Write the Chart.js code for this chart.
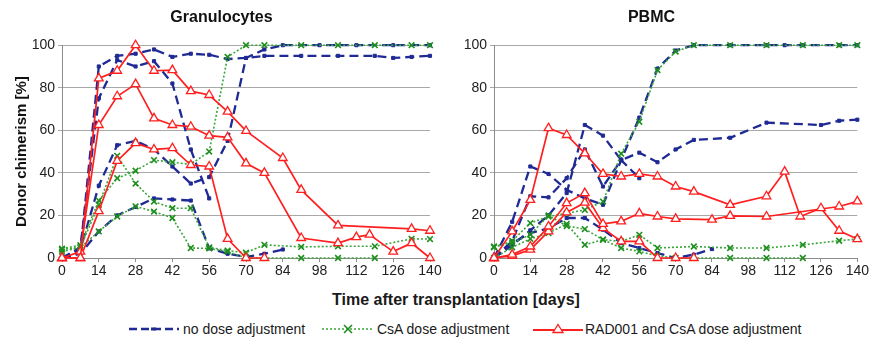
<!DOCTYPE html>
<html><head><meta charset="utf-8">
<script src="https://cdn.jsdelivr.net/npm/chart.js@4.4.1/dist/chart.umd.min.js"></script>
<style>
html,body{margin:0;padding:0;background:#fff;}
#wrap{position:relative;width:870px;height:343px;overflow:hidden;font-family:"Liberation Sans",Arial,sans-serif;color:#1a1a1a;}
#c1{position:absolute;left:0;top:0;}
#c2{position:absolute;left:445px;top:0;}
#xtitle{position:absolute;left:0;width:912px;top:290px;text-align:center;font-weight:bold;font-size:16px;line-height:19px;}
.lg{position:absolute;top:320px;height:18px;font-size:14px;line-height:18px;white-space:nowrap;}
.lg svg{position:absolute;left:0;top:0;}
</style></head>
<body><div id="wrap">
<canvas id="c1" width="445" height="290"></canvas>
<canvas id="c2" width="425" height="290"></canvas>
<div id="xtitle">Time after transplantation [days]</div>
<div class="lg" style="left:128px;width:170px"><svg width="52" height="18"><line x1="1" y1="9" x2="51" y2="9" stroke="#1f2a94" stroke-width="2.4" stroke-dasharray="8,4"/><rect x="23" y="7.5" width="5" height="3" fill="#1f2a94"/></svg><span style="position:absolute;left:55px">no dose adjustment</span></div>
<div class="lg" style="left:321px;width:180px"><svg width="54" height="18"><line x1="1" y1="9" x2="53" y2="9" stroke="#3aa63a" stroke-width="1.6" stroke-dasharray="2,2"/><path d="M23 5 L31 13 M31 5 L23 13" stroke="#1e8f1e" stroke-width="1.6"/></svg><span style="position:absolute;left:56px">CsA dose adjustment</span></div>
<div class="lg" style="left:532px;width:290px"><svg width="52" height="18"><line x1="1" y1="10" x2="51" y2="10" stroke="#ff1f1f" stroke-width="1.8"/><path d="M26 4.5 L31 12.5 L21 12.5 Z" fill="#fff" stroke="#ff1f1f" stroke-width="1.3"/></svg><span style="position:absolute;left:53px">RAD001 and CsA dose adjustment</span></div>
</div>
<script>
// ---- axes ----
const xTickDays = [0,14,28,42,56,70,84,98,112,126,140];
const yTickValues = [0,20,40,60,80,100];
const seriesNames = ['no dose adjustment','CsA dose adjustment','RAD001 and CsA dose adjustment'];

// ---- Granulocytes ----
// no dose adjustment (blue dashed)
const granBlue1Days = [0,7,14,21,28,35,42,49,56,63,70,77,91,105,119,126,133,140];
const granBlue1Vals = [0,3,90,95,96,98,94.5,96,95.5,93.5,94,95,95,95,95,94,94.5,95];
const granBlue2Days = [0,7,14,21,28,35,42,49,56];
const granBlue2Vals = [0,5,75,93,90,92.5,82,51,28];
const granBlue3Days = [0,7,14,21,28,35,42,49,56,63,70,77,84,98,112,126,140];
const granBlue3Vals = [0,4,34,53,55,51,43,35,38,55,94,98,100,100,100,100,100];
const granBlue4Days = [0,7,14,21,28,35,42,49,56,63,70,77,84];
const granBlue4Vals = [0,2,12.5,20,24,28,27.5,27,4.5,2,0.5,2,4];
// CsA dose adjustment (green dotted)
const granGreen1Days = [0,7,14,21,28,35,42,49,56,63,70,77,91,105,119,133,140];
const granGreen1Vals = [4.4,6,27,37.5,41,46,45,44,50,94.5,100,100,100,100,100,100,100];
const granGreen2Days = [0,7,14,21,28,35,42,49,56,63,70,77,91,105,119,133,140];
const granGreen2Vals = [4,5,25,48,35,26.5,23.4,23.4,5,3.5,2.5,6.2,5.2,5.5,5.5,9,8.9];
const granGreen3Days = [0,7,14,21,28,35,42,49,56,63,70,91,105,119];
const granGreen3Vals = [3,5,12.5,19.5,24.3,21.8,18.8,4.7,4.5,3,0,0,0,0];
// RAD001 and CsA dose adjustment (red solid)
const granRed1Days = [0,7,14,21,28,35,42,49,56,63,70,84,91,105,133,140];
const granRed1Vals = [0,0,84.4,88,100,88,88.3,78.4,76.6,68.8,59.7,47,32,15.3,13.7,12.8];
const granRed2Days = [0,7,14,21,28,35,42,49,56,63,70,77,91,105,112,117,126,133,140];
const granRed2Vals = [0,3,62.5,76,81.7,65.6,62.5,61.7,57.5,56.7,44.5,40,9.4,7,9.8,11,3,7,0];
const granRed3Days = [0,7,14,21,28,35,42,49,56,63,70,77];
const granRed3Vals = [0,0,22,45.6,54,51,51.6,43.7,43,9,0,0];

// ---- PBMC ----
const pbmcBlue1Days = [0,7,14,21,28,35,42,49,56,63,70,77,91,105,126,133,140];
const pbmcBlue1Vals = [0,6,13,20,30.5,62.5,57.5,46,49.5,45,51,55.5,56.5,63.6,62.5,64.5,65];
const pbmcBlue2Days = [0,7,14,21,28,35,42,49,56,63,70,77,91,105,112,119,133,140];
const pbmcBlue2Vals = [0,17,43,39.5,32,28,25,46,66,89,97.5,100,100,100,100,100,100,100];
const pbmcBlue3Days = [0,7,14,21,28,35,42,49,56];
const pbmcBlue3Vals = [0,8,29,28.5,37.5,51,33.6,46,37.5];
const pbmcBlue4Days = [0,7,14,21,28,35,42,49,56,63,70,77,84];
const pbmcBlue4Vals = [0,7,11.7,14,18.8,18.8,13.3,7,4.7,2.3,0,1.6,4.2];
const pbmcGreen1Days = [0,7,14,21,28,35,42,49,56,63,70,77,91,105,119,133,140];
const pbmcGreen1Vals = [5,8,16.4,19.5,21,22.6,26.5,49,64,88.3,97,100,100,100,100,100,100];
const pbmcGreen2Days = [0,7,14,21,28,35,42,49,56,63,77,91,105,119,133,140];
const pbmcGreen2Vals = [5.4,7,11,20,15,13.6,8.6,7.8,10.9,4.7,5.4,4.7,4.7,6.2,8.1,8.9];
const pbmcGreen3Days = [0,7,14,21,28,35,42,49,56,63,70,91,105,119];
const pbmcGreen3Vals = [0,5,9,11.7,16,6.2,8.6,4.7,3.1,1,0,0,0,0];
const pbmcRed1Days = [0,7,14,21,28,35,42,49,56,63,70,77,91,105,112,118,126,133,140];
const pbmcRed1Vals = [0,12.5,27.3,61,57.8,49.2,39.5,38.3,39.5,38.3,33.6,31.2,25,29,40.6,19.5,23.4,12.8,8.9];
const pbmcRed2Days = [0,7,14,21,28,35,42,49,56,63,70,84,91,105,133,140];
const pbmcRed2Vals = [0,1.6,5.4,14.8,25.8,30.5,16,17.2,21,19.5,18.4,18,19.8,19.5,24.2,26.6];
const pbmcRed3Days = [0,7,14,21,28,35,42,49,56,63,70,77];
const pbmcRed3Vals = [0,1,3.9,12.5,21.4,26,14,7.8,7.8,0,0,0];

const FONT = '"Liberation Sans", Arial, sans-serif';
const BLUE = {borderColor:'#1f2a94', backgroundColor:'#1f2a94', borderWidth:2.3, borderDash:[9,5],
  pointStyle:'rect', pointRadius:2.2, pointBorderWidth:1, pointBackgroundColor:'#1f2a94', pointBorderColor:'#1f2a94'};
const GREEN = {borderColor:'#3aa63a', backgroundColor:'#3aa63a', borderWidth:1.6, borderDash:[2,2],
  pointStyle:'crossRot', pointRadius:4, pointBorderWidth:1.6, pointBackgroundColor:'#1e8f1e', pointBorderColor:'#1e8f1e'};
const RED = {borderColor:'#ff1f1f', backgroundColor:'#ff1f1f', borderWidth:1.7, borderDash:[],
  pointStyle:'triangle', pointRadius:5, pointBorderWidth:1.3, pointBackgroundColor:'#ffffff', pointBorderColor:'#ff1f1f'};

function ds(label, days, vals, style){
  return Object.assign({label, data: days.map((d,i)=>({x:d, y:vals[i]})), tension:0, clip:false, fill:false}, style);
}

function opts(title, yTitle, leftPad, yWidth, rightPad){
  return {
    responsive:false, animation:false, devicePixelRatio:1,
    layout:{padding:{left:leftPad, right:rightPad, top:8, bottom:0}},
    plugins:{
      legend:{display:false}, tooltip:{enabled:false},
      title:{display:true, text:title, color:'#111', font:{family:FONT, size:16, weight:'bold'}, padding:{top:0, bottom:18}}
    },
    scales:{
      x:{type:'linear', min:0, max:140,
        afterBuildTicks:s=>{ s.ticks = xTickDays.map(v=>({value:v})); },
        afterFit:s=>{ s.height = 32; },
        grid:{drawOnChartArea:false, drawTicks:true, tickLength:4, color:'#8c8c8c'},
        border:{display:true, color:'#8c8c8c', width:1},
        ticks:{font:{family:FONT, size:14}, color:'#222', padding:1, maxRotation:0, autoSkip:false}},
      y:{min:0, max:100,
        afterBuildTicks:s=>{ s.ticks = yTickValues.map(v=>({value:v})); },
        afterFit:s=>{ s.width = yWidth; },
        grid:{color:'#a9a9a9', lineWidth:1, tickLength:4, drawTicks:true},
        border:{display:true, color:'#8c8c8c', width:1},
        ticks:{font:{family:FONT, size:14}, color:'#222', padding:3},
        title: yTitle ? {display:true, text:yTitle, color:'#111', font:{family:FONT, size:15, weight:'bold'}, padding:{top:0,bottom:0}} : {display:false}}
    }
  };
}

new Chart(document.getElementById('c1'), {
  type:'line',
  data:{datasets:[
    ds(seriesNames[2], granRed1Days, granRed1Vals, RED),
    ds(seriesNames[2], granRed2Days, granRed2Vals, RED),
    ds(seriesNames[2], granRed3Days, granRed3Vals, RED),
    ds(seriesNames[1], granGreen1Days, granGreen1Vals, GREEN),
    ds(seriesNames[1], granGreen2Days, granGreen2Vals, GREEN),
    ds(seriesNames[1], granGreen3Days, granGreen3Vals, GREEN),
    ds(seriesNames[0], granBlue1Days, granBlue1Vals, BLUE),
    ds(seriesNames[0], granBlue2Days, granBlue2Vals, BLUE),
    ds(seriesNames[0], granBlue3Days, granBlue3Vals, BLUE),
    ds(seriesNames[0], granBlue4Days, granBlue4Vals, BLUE)
  ]},
  options: opts('Granulocytes', 'Donor chimerism [%]', 13, 49, 15)
});

new Chart(document.getElementById('c2'), {
  type:'line',
  data:{datasets:[
    ds(seriesNames[2], pbmcRed1Days, pbmcRed1Vals, RED),
    ds(seriesNames[2], pbmcRed2Days, pbmcRed2Vals, RED),
    ds(seriesNames[2], pbmcRed3Days, pbmcRed3Vals, RED),
    ds(seriesNames[1], pbmcGreen1Days, pbmcGreen1Vals, GREEN),
    ds(seriesNames[1], pbmcGreen2Days, pbmcGreen2Vals, GREEN),
    ds(seriesNames[1], pbmcGreen3Days, pbmcGreen3Vals, GREEN),
    ds(seriesNames[0], pbmcBlue1Days, pbmcBlue1Vals, BLUE),
    ds(seriesNames[0], pbmcBlue2Days, pbmcBlue2Vals, BLUE),
    ds(seriesNames[0], pbmcBlue3Days, pbmcBlue3Vals, BLUE),
    ds(seriesNames[0], pbmcBlue4Days, pbmcBlue4Vals, BLUE)
  ]},
  options: opts('PBMC', '', 0, 49, 12)
});
</script>
</body></html>
